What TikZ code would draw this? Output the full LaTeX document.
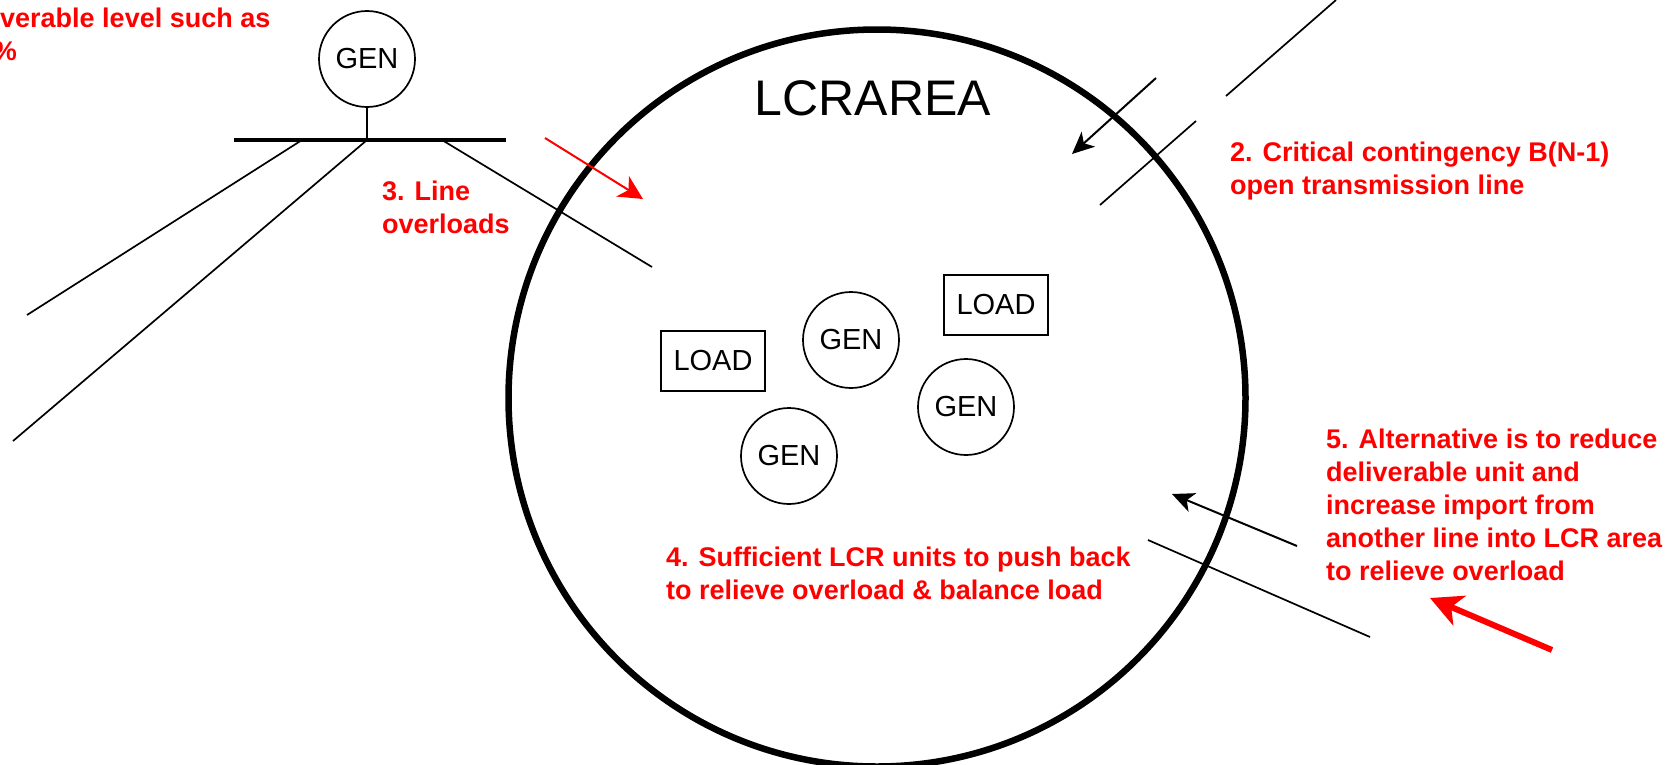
\documentclass[tikz,border=0pt]{standalone}
\usepackage{fontspec}
\setmainfont{Liberation Sans}
\usetikzlibrary{arrows.meta}
\definecolor{white}{RGB}{255,255,255}
\definecolor{black}{RGB}{0,0,0}
\definecolor{note_red}{RGB}{255,0,0}

\begin{document}
\begin{tikzpicture}[x=1pt,y=-1pt,
	gen/.style={circle,draw=black,fill=white,line width=1.7pt,minimum size=96pt,inner sep=0pt,font=\fontsize{29}{29}\selectfont},
	load/.style={rectangle,draw=black,fill=white,line width=1.7pt,minimum width=104pt,minimum height=60pt,inner sep=0pt,font=\fontsize{29}{29}\selectfont},
	feeder/.style={draw=black,line width=1.7pt},
	note/.style={text=note_red,font=\fontsize{27}{33}\selectfont\bfseries,align=left,inner sep=0pt,anchor=base west},
	flow/.style={black,line width=2pt,-{Stealth[length=22pt,width=20pt,inset=6pt]}}
]
	\useasboundingbox (0,0) rectangle (1671,764);

	% generator and bus outside the area
	\node[gen] (g0) at (367,59) {GEN};
	\coordinate (b1) at (234,140);
	\coordinate (b2) at (506,140);
	\coordinate (t0) at (367,140);
	\coordinate (t1) at (302,140);
	\coordinate (t2) at (442,140);
	\coordinate (e1) at (27,315);
	\coordinate (e2) at (13,441);
	\coordinate (e3) at (652,267);
	\draw[black,line width=4pt] (b1) -- (b2);
	\draw[feeder] (g0) -- (t0);
	\foreach \x/\y in {t1/e1,t0/e2,t2/e3}
		\draw[feeder] (\x) -- (\y);

	% LCR area
	\node[circle,draw=black,line width=6.5pt,minimum size=737pt,inner sep=0pt] (lcr) at (877,398) {};
	\node[font=\fontsize{50}{50}\selectfont,anchor=base] (title) at (873,115) {LCRAREA};

	\node[load] (l1) at (713,361) {LOAD};
	\node[load] (l2) at (996,305) {LOAD};
	\node[gen] (g1) at (851,340) {GEN};
	\node[gen] (g2) at (966,407) {GEN};
	\node[gen] (g3) at (789,456) {GEN};

	% open line and import lines
	\coordinate (o1) at (1336,0);
	\coordinate (o2) at (1226,96);
	\coordinate (o3) at (1196,121);
	\coordinate (o4) at (1100,205);
	\coordinate (i1) at (1148,540);
	\coordinate (i2) at (1370,637);
	\draw[feeder] (o1) -- (o2);
	\draw[feeder] (o3) -- (o4);
	\draw[feeder] (i1) -- (i2);

	\coordinate (a1) at (1156,78);
	\coordinate (a2) at (1072,154);
	\coordinate (a3) at (1297,546);
	\coordinate (a4) at (1172,494);
	\draw[flow] (a1) -- (a2);
	\draw[flow] (a3) -- (a4);

	\coordinate (r1) at (545,138);
	\coordinate (r2) at (643,199);
	\coordinate (r3) at (1552,650);
	\coordinate (r4) at (1430,598);
	\draw[note_red,line width=2pt,-{Stealth[length=24pt,width=24pt,inset=7pt]}] (r1) -- (r2);
	\draw[note_red,line width=6pt,-{Stealth[length=32pt,width=32pt,inset=9pt]}] (r3) -- (r4);

	% notes (base = last line)
	\node[note] (n1) at (0,27) {verable level such as};
	\node[note,anchor=base east] (n1b) at (17,60) {\%};
	\node[note] (n2) at (1230,194) {2. Critical contingency B(N-1)\\open transmission line};
	\node[note] (n3) at (382,233) {3. Line\\overloads};
	\node[note] (n4) at (666,599) {4. Sufficient LCR units to push back\\to relieve overload \& balance load};
	\node[note] (n5) at (1326,580) {5. Alternative is to reduce\\deliverable unit and\\increase import from\\another line into LCR area\\to relieve overload};
\end{tikzpicture}
\end{document}
